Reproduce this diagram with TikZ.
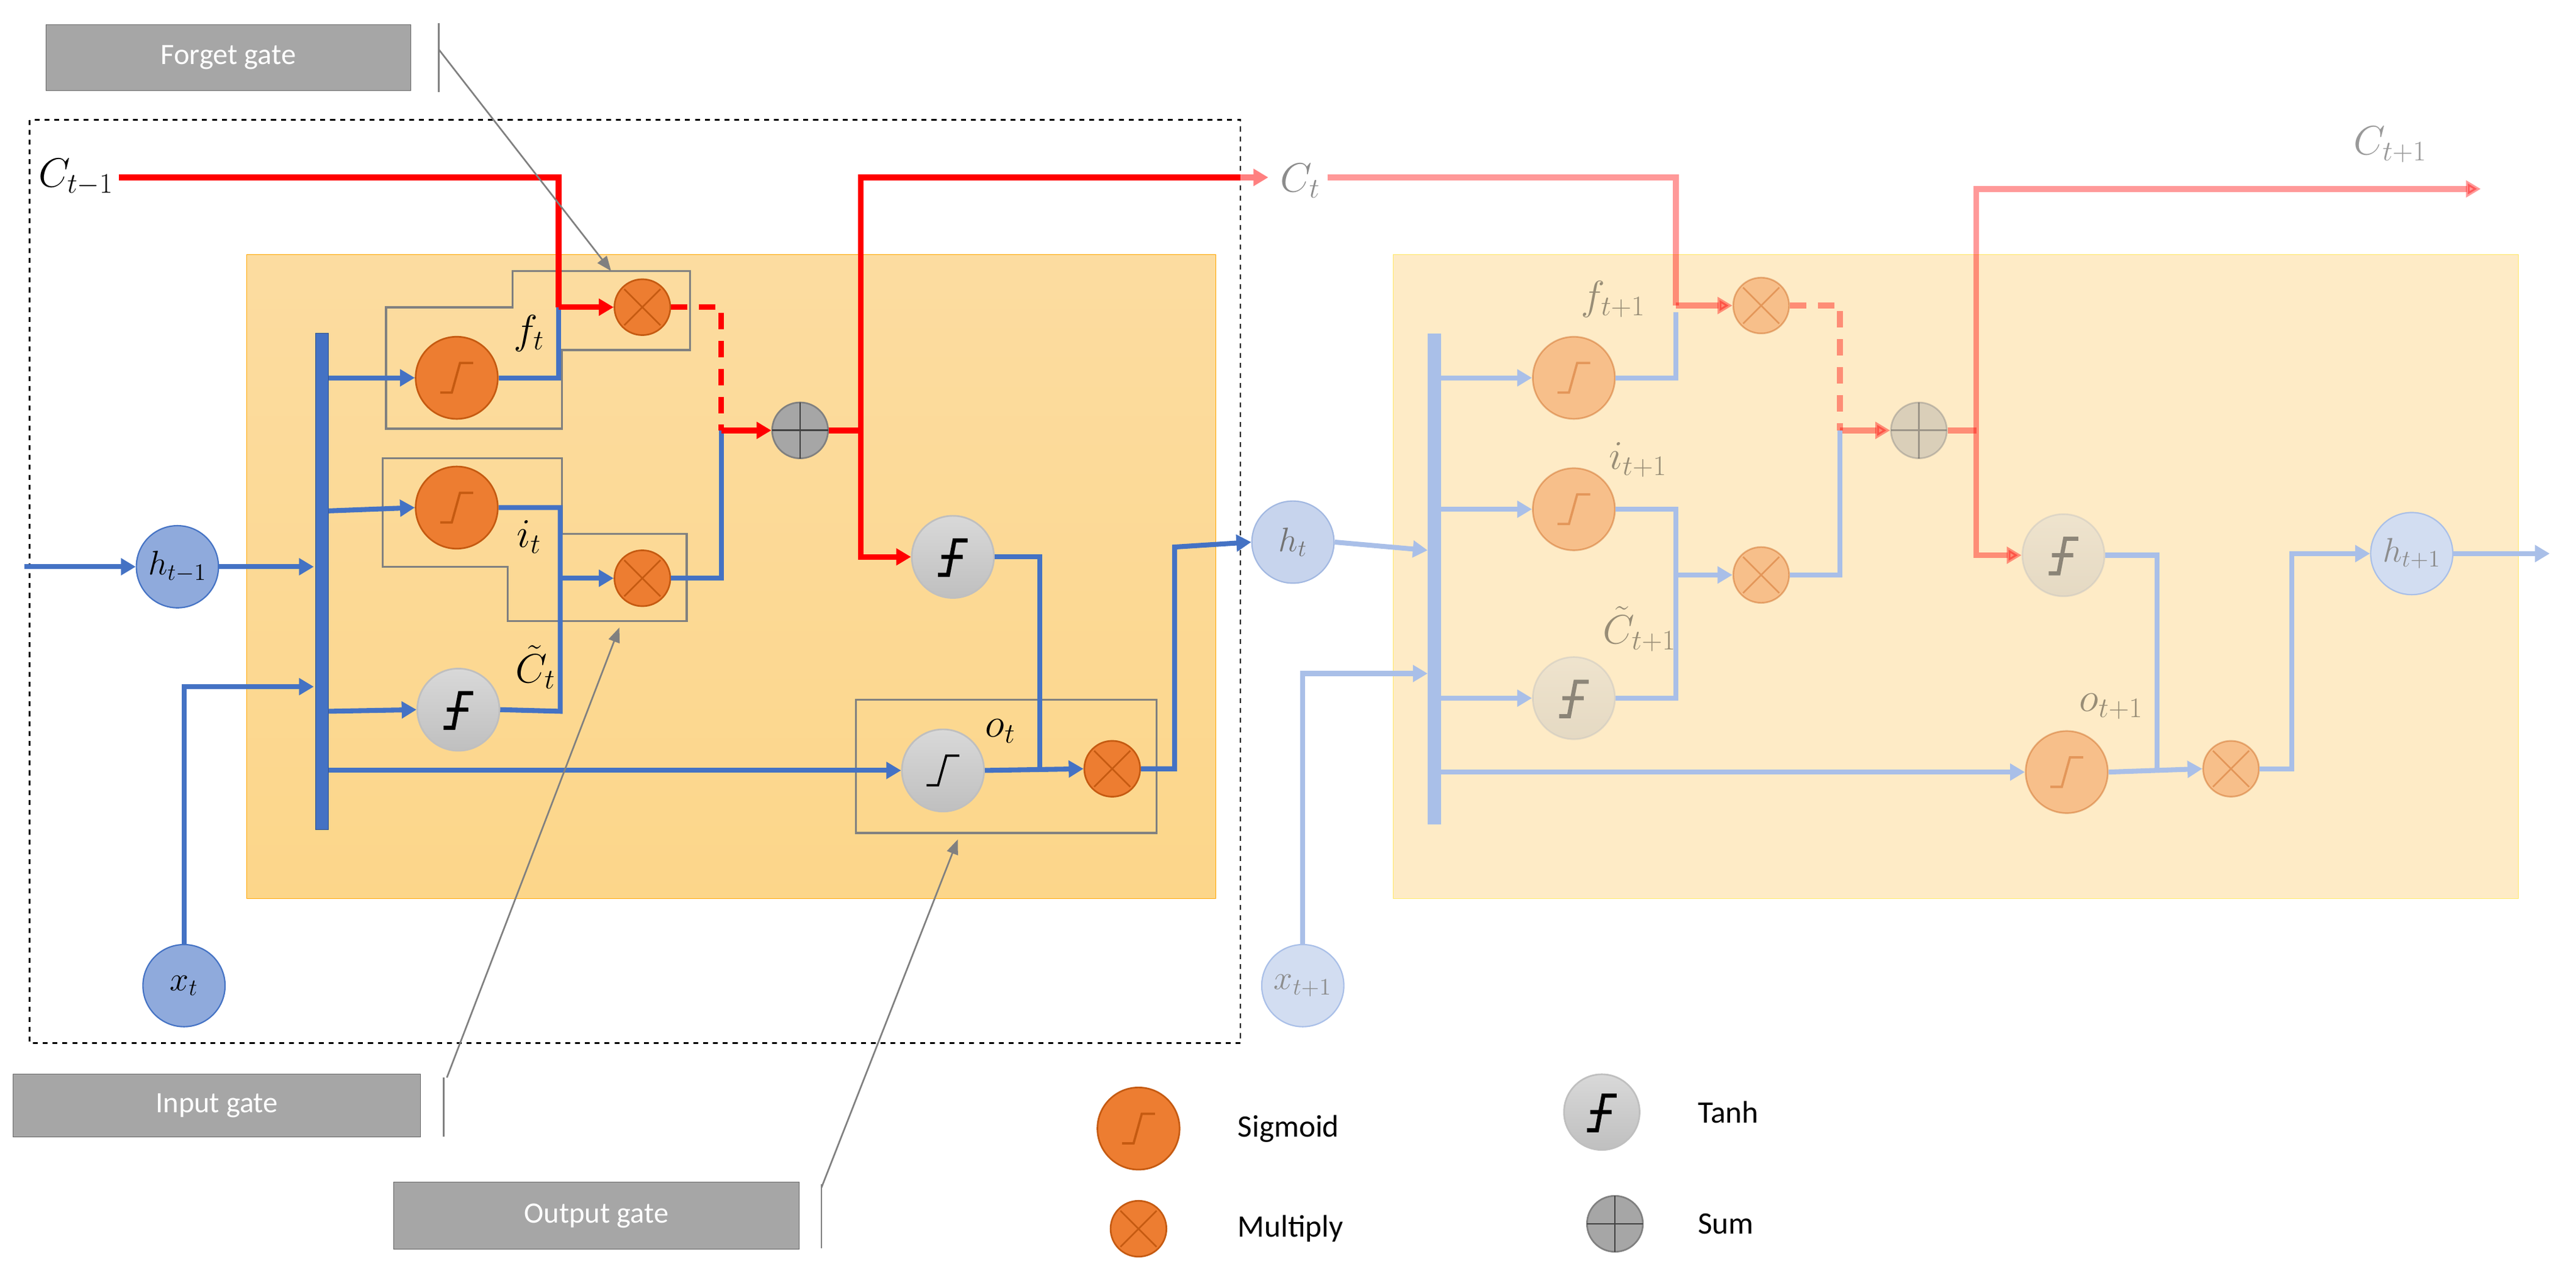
\documentclass[tikz,border=0pt]{standalone}
\usepackage{fontspec}
\setmainfont{Carlito}
\usetikzlibrary{arrows.meta,shapes.geometric}
\definecolor{bl}{HTML}{4472C4}
\definecolor{org}{HTML}{ED7D31}
\definecolor{orgd}{HTML}{C55A11}
\definecolor{gr}{HTML}{808080}
\definecolor{cellA}{HTML}{FCD68A}
\definecolor{cellAt}{HTML}{FCDCA0}
\definecolor{cellB}{HTML}{FEEBC6}
\definecolor{circB}{HTML}{8FAADC}
\definecolor{blf}{HTML}{A9BFE8}
\begin{document}
\begin{tikzpicture}[x=1pt,y=-1pt,
  bl/.style={draw=bl,line width=3pt},
  blF/.style={draw=blf,line width=3pt},
  rd/.style={draw=red,line width=3.5pt},
  arr/.style={-{Triangle[length=9pt,width=10pt]}},
  sigN/.style={circle,minimum size=50pt,inner sep=0pt,fill=org,draw=orgd,line width=1pt},
  mulN/.style={circle,minimum size=34pt,inner sep=0pt,fill=org,draw=orgd,line width=1pt},
  tanN/.style={circle,minimum size=50pt,inner sep=0pt,top color=gray!30,bottom color=gray!50,draw=gray!50,line width=1pt},
  sumN/.style={circle,minimum size=34pt,inner sep=0pt,fill=gray!70,draw=gray,line width=1pt},
  inN/.style={circle,minimum size=50pt,inner sep=0pt,fill=circB,draw=bl,line width=0.8pt,font=\fontsize{21}{24}\selectfont},
  lab/.style={font=\fontsize{23}{26}\selectfont},
  gate/.style={draw=gray!80!black,fill=gray!70,minimum width=222pt,minimum height=40pt,text=white,font=\fontsize{18}{21}\selectfont},
  gbox/.style={draw=gr,line width=1.3pt},
  garr/.style={draw=gr,line width=1pt,-{Triangle[length=9pt,width=7pt]}},
  leg/.style={font=\fontsize{19}{22}\selectfont,anchor=west},
  sig/.pic={\draw[line width=1.4pt,pic actions] (-10,9)--(-3,9)--(2,-9)--(10,-9);},
  tnh/.pic={\draw[line width=2.5pt,pic actions] (-9,11)--(-3,11)--(1,-10)--(9,-10) (-7,0)--(6,0);},
  mulp/.pic={\draw[draw=orgd,line width=1pt] (-11,-11)--(11,11) (-11,11)--(11,-11);},
  sump/.pic={\draw[draw=gray!50!black,line width=1pt] (-17,0)--(17,0) (0,-17)--(0,17);}
]
\useasboundingbox (0,0) rectangle (1568,781);
\fill[white] (0,0) rectangle (1568,781);
% cells
\shade[top color=cellAt,bottom color=cellA,draw=orange!70!yellow] (150,155) rectangle (740,547);
\fill[cellB,draw=orange!30!yellow!60] (848,155) rectangle (1533,547);
\draw[dashed,line width=1pt] (18,73) rectangle (755,635);

% ---------- left cell nodes ----------
\node[inN] (h0) at (108,345) {$h_{t-1}$};
\node[inN] (x0) at (112,600) {$x_t$};
\filldraw[fill=bl,draw=bl!70!black] (192,203) rectangle (200,505);
\node[sigN] (fs) at (278,230) {}; \pic[draw=orgd] at (fs) {sig};
\node[sigN] (is) at (278,309) {}; \pic[draw=orgd] at (is) {sig};
\node[tanN] (ct) at (279,432) {}; \pic at (ct) {tnh};
\node[tanN] (os) at (574,469) {}; \pic[line width=2.5pt] at (os) {sig};
\node[mulN] (fm) at (391,187) {}; \pic at (fm) {mulp};
\node[mulN] (im) at (391,352) {}; \pic at (im) {mulp};
\node[sumN] (sm) at (487,262) {}; \pic at (sm) {sump};
\node[tanN] (tc) at (580,339) {}; \pic at (tc) {tnh};
\node[mulN] (om) at (677,468) {}; \pic at (om) {mulp};
\node[inN,fill=circB!50,draw=bl!50,text=black!55] (h1) at (787,330) {$h_t$};
\node[lab,anchor=west] (cm1) at (20,108) {$C_{t-1}$};
\node[lab] (lf) at (322,203) {$f_t$};
\node[lab] (li) at (322,327) {$i_t$};
\node[lab] (lc) at (326,406) {$\tilde{C}_t$};
\node[lab] (lo) at (609,445) {$o_t$};

% gate boxes
\draw[gbox] (235,187)--(312,187)--(312,165)--(420,165)--(420,213)--(342,213)--(342,261)--(235,261)--cycle;
\draw[gbox] (233,279)--(342,279)--(342,325)--(418,325)--(418,378)--(309,378)--(309,345)--(233,345)--cycle;
\draw[gbox] (521,426) rectangle (704,507);

% blue connectors
\draw[bl,arr] (15,345) -- (h0.west);
\draw[bl,arr] (h0.east) -- (191,345);
\draw[bl,arr] (x0.north) |- (191,418);
\draw[bl,arr] (200,230) -- (fs.west);
\draw[bl,arr] (200,311) -- (is.west);
\draw[bl,arr] (200,433) -- (ct.west);
\draw[bl,arr] (200,469) -- (os.west);
\draw[bl] (fs.east) -| (340,187);
\draw[bl] (is.east) -| (341,433) -- (ct.east);
\draw[bl,arr] (341,352) -- (im.west);
\draw[bl] (im.east) -| (439,262);
\draw[bl] (tc.east) -| (633,468);
\draw[bl,arr] (os.east) -- (om.west);
\draw[bl,arr] (om.east) -| (715,333) -- (h1.west);

% red connectors
\draw[rd] (cm1.east) -| (340,187);
\draw[rd,arr] (340,187) -- (fm.west);
\draw[rd,dashed,dash pattern=on 10pt off 7pt] (fm.east) -| (439,262);
\draw[rd,arr] (439,262) -- (sm.west);
\draw[rd] (sm.east) -- (524,262);
\draw[rd,arr] (524,262) |- (tc.west);
\draw[rd,draw=red!50,arr] (524,262) |- (772,108);
\draw[rd] (524,262) -- (524,108) -- (755,108);
\node[lab,text=black!45,anchor=west] (ct1) at (776,110) {$C_t$};

% gate labels and arrows
\node[gate] (gf) at (139,35) {Forget gate};
\node[gate,minimum width=248pt,minimum height=38pt] (gi) at (132,673) {Input gate};
\node[gate,minimum width=247pt,minimum height=41pt] (go) at (363,740) {Output gate};
\draw[gr,line width=1pt] (267,14)--(267,56);
\draw[gr,line width=1pt] (270,656)--(270,692);
\draw[gr,line width=1pt] (500,721)--(500,760);
\draw[garr] (267,30) -- (372,165);
\draw[garr] (272,656) -- (377,382);
\draw[garr] (500,723) -- (583,511);

% ---------- right cell (faded) ----------
\node[inN,fill=circB!40,draw=blf,text=black!45] (x1) at (793,600) {$x_{t+1}$};
\fill[fill=blf] (869,203) rectangle (877,502);
\node[inN,fill=circB!40,draw=blf,text=black!45] (h2) at (1468,337) {$h_{t+1}$};
\begin{scope}[opacity=0.4]
\node[sigN] (fs2) at (958,230) {}; \pic[draw=orgd] at (fs2) {sig};
\node[sigN] (is2) at (958,310) {}; \pic[draw=orgd] at (is2) {sig};
\node[tanN] (ct2) at (958,425) {}; \pic at (ct2) {tnh};
\node[sigN] (os2) at (1258,470) {}; \pic[draw=orgd] at (os2) {sig};
\node[mulN] (fm2) at (1072,186) {}; \pic at (fm2) {mulp};
\node[mulN] (im2) at (1072,350) {}; \pic at (im2) {mulp};
\node[sumN] (sm2) at (1168,262) {}; \pic at (sm2) {sump};
\node[tanN] (tc2) at (1256,338) {}; \pic at (tc2) {tnh};
\node[mulN] (om2) at (1358,468) {}; \pic at (om2) {mulp};
\node[lab] (lf2) at (982,182) {$f_{t+1}$};
\node[lab] (li2) at (997,280) {$i_{t+1}$};
\node[lab] (lc2) at (998,383) {$\tilde{C}_{t+1}$};
\node[lab] (lo2) at (1285,430) {$o_{t+1}$};
\node[lab] (lC2) at (1455,88) {$C_{t+1}$};

\draw[rd] (808,108) -| (1020,186);
\draw[rd,arr] (1020,186) -- (fm2.west);
\draw[rd,dashed,dash pattern=on 10pt off 7pt] (fm2.east) -| (1120,262);
\draw[rd,arr] (1120,262) -- (sm2.west);
\draw[rd] (sm2.east) -- (1203,262);
\draw[rd,arr] (1203,262) |- (tc2.west);
\draw[rd,arr] (1203,262) |- (1510,115);
\end{scope}

\draw[blF,arr] (h1.east) -- (869,335);
\draw[blF,arr] (x1.north) |- (869,410);
\draw[blF,arr] (877,230) -- (fs2.west);
\draw[blF,arr] (877,310) -- (is2.west);
\draw[blF,arr] (877,425) -- (ct2.west);
\draw[blF,arr] (877,470) -- (os2.west);
\draw[blF] (fs2.east) -| (1020,190);
\draw[blF] (is2.east) -| (1020,425) -- (ct2.east);
\draw[blF,arr] (1020,350) -- (im2.west);
\draw[blF] (im2.east) -| (1120,262);
\draw[blF] (tc2.east) -| (1313,468);
\draw[blF,arr] (os2.east) -- (om2.west);
\draw[blF,arr] (om2.east) -| (1395,337) -- (h2.west);
\draw[blF,arr] (h2.east) -- (1552,337);

% ---------- legend ----------
\node[sigN] (lsg) at (693,687) {}; \pic[draw=orgd] at (lsg) {sig};
\node[leg] (tsg) at (750,687) {Sigmoid};
\node[mulN] (lml) at (693,748) {}; \pic at (lml) {mulp};
\node[leg] (tml) at (750,748) {Multiply};
\node[tanN,minimum size=46pt] (ltn) at (975,677) {}; \pic at (ltn) {tnh};
\node[leg] (ttn) at (1030,677) {Tanh};
\node[sumN] (lsm) at (983,745) {}; \pic at (lsm) {sump};
\node[leg] (tsm) at (1030,745) {Sum};
\end{tikzpicture}
\end{document}
